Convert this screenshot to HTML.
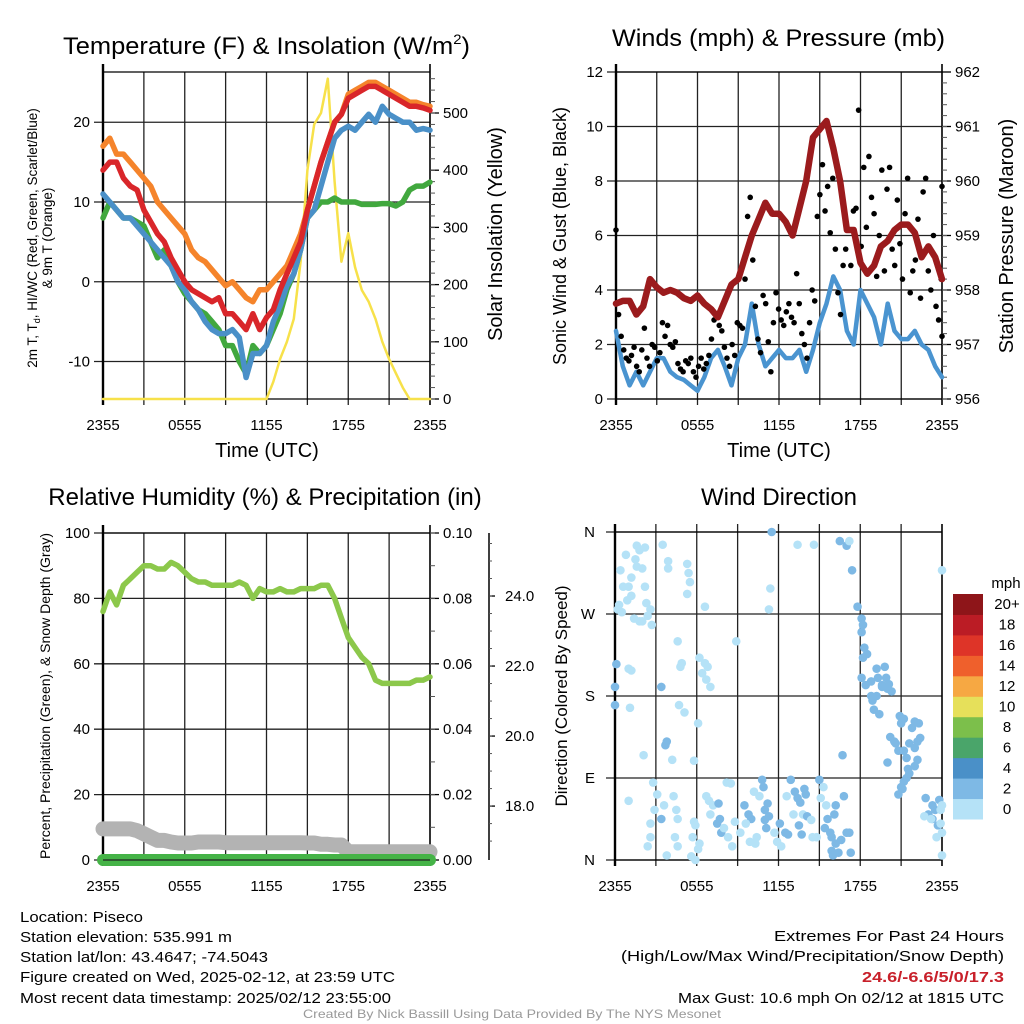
<!DOCTYPE html>
<html><head><meta charset="utf-8"><style>
html,body{margin:0;padding:0;background:#fff}
svg{display:block;font-family:"Liberation Sans",sans-serif}
</style></head><body>
<svg id="fig" xmlns="http://www.w3.org/2000/svg" width="1024" height="1024" viewBox="0 0 1024 1024">
<rect width="1024" height="1024" fill="#fff"/>
<g id="layer"></g>
<text x="63" y="54" font-size="24" textLength="407" lengthAdjust="spacingAndGlyphs">Temperature (F) &amp; Insolation (W/m<tspan font-size="14" dy="-10">2</tspan><tspan dy="10">)</tspan></text>
<text x="612" y="46" font-size="24" textLength="333" lengthAdjust="spacingAndGlyphs">Winds (mph) &amp; Pressure (mb)</text>
<text x="265" y="505" font-size="24" text-anchor="middle">Relative Humidity (%) &amp; Precipitation (in)</text>
<text x="779" y="505" font-size="24" text-anchor="middle">Wind Direction</text>
<text x="267" y="457" font-size="20" text-anchor="middle">Time (UTC)</text>
<text x="779" y="457" font-size="20" text-anchor="middle">Time (UTC)</text>
<text transform="translate(37,238) rotate(-90)" font-size="13.5" text-anchor="middle">2m T, T<tspan font-size="9" dy="3">d</tspan><tspan dy="-3">, HI/WC (Red, Green, Scarlet/Blue)</tspan></text>
<text transform="translate(52,238) rotate(-90)" font-size="13.5" text-anchor="middle">&amp; 9m T (Orange)</text>
<text transform="translate(502,234) rotate(-90)" font-size="20" text-anchor="middle">Solar Insolation (Yellow)</text>
<text transform="translate(566,236) rotate(-90)" font-size="18" text-anchor="middle">Sonic Wind &amp; Gust (Blue, Black)</text>
<text transform="translate(1013,236) rotate(-90)" font-size="20" text-anchor="middle">Station Pressure (Maroon)</text>
<text transform="translate(50,696) rotate(-90)" font-size="14" text-anchor="middle">Percent, Precipitation (Green), &amp; Snow Depth (Gray)</text>
<text transform="translate(567,696) rotate(-90)" font-size="17" text-anchor="middle">Direction (Colored By Speed)</text>
<text x="1006" y="588" font-size="15" text-anchor="middle">mph</text>
<g font-size="15">
<text x="20" y="922" textLength="123" lengthAdjust="spacingAndGlyphs">Location: Piseco</text>
<text x="20" y="942" textLength="212" lengthAdjust="spacingAndGlyphs">Station elevation: 535.991 m</text>
<text x="20" y="962" textLength="248" lengthAdjust="spacingAndGlyphs">Station lat/lon: 43.4647; -74.5043</text>
<text x="20" y="982" textLength="375" lengthAdjust="spacingAndGlyphs">Figure created on Wed, 2025-02-12, at 23:59 UTC</text>
<text x="20" y="1003" textLength="371" lengthAdjust="spacingAndGlyphs">Most recent data timestamp: 2025/02/12 23:55:00</text>
</g>
<g font-size="15">
<text x="774" y="941" textLength="230" lengthAdjust="spacingAndGlyphs">Extremes For Past 24 Hours</text>
<text x="621" y="961" textLength="383" lengthAdjust="spacingAndGlyphs">(High/Low/Max Wind/Precipitation/Snow Depth)</text>
<text x="862" y="982" textLength="142" lengthAdjust="spacingAndGlyphs" fill="#c8202a" font-weight="bold">24.6/-6.6/5/0/17.3</text>
<text x="678" y="1003" textLength="326" lengthAdjust="spacingAndGlyphs">Max Gust: 10.6 mph On 02/12 at 1815 UTC</text>
</g>
<text x="303" y="1018" font-size="12" fill="#999" textLength="418" lengthAdjust="spacingAndGlyphs">Created By Nick Bassill Using Data Provided By The NYS Mesonet</text>
</svg>
<script>
// ---------- data (half-hour steps from 2355 prior day) ----------
const tempRed=[14,15,15,13,12,11.5,9,7.5,6,5,3,1.5,0,-1,-1.5,-2,-2.5,-2,-4,-4,-5,-6,-4,-6,-4.5,-3.5,-1,1,3,5,9,12,15,17.5,20,21,23,23.5,24,24.5,24.5,24,23.5,23,22.5,22,22,21.8,21.5];
const tempOrange=[17,18,16,16,15,14,13,12,10,9,8,7,6,4,3,2.5,1.5,0.5,-0.5,0,-1,-2,-2.5,-1,-1,0,1,2,4,6,9,12,15,17.5,20,21,23.5,24,24.5,25,25,24.5,24,23.5,23,22.5,22.5,22.2,22];
const tempGreen=[8,10,9,8,8,7.5,7,5,3,4,2,0,-1.5,-2.5,-3.5,-4,-5,-6,-8,-8,-10,-11.5,-8,-9,-8,-6,-4,-1,1,4,8,9,10,10,10.5,10,10,10,9.7,9.7,9.7,9.8,9.8,9.5,10,11.5,12,12,12.5];
const tempBlue=[11,10,9,8,8,7,6,5,4,3,2,0,-1,-2.5,-3.5,-5,-6,-6.5,-6.5,-6,-7,-12,-9,-9,-8,-5,-3,-0.5,1,4,8,9,12,15,18,19,19.5,19,20,21,20,22,21,20.5,20,20,19,19.2,19];
const insolation=[0,0,0,0,0,0,0,0,0,0,0,0,0,0,0,0,0,0,0,0,0,0,0,0,0,30,70,100,140,240,400,480,500,560,380,240,290,230,190,170,140,100,70,45,20,0,0,0,0];
const windSpeed=[2.5,1.2,0.5,1,0.5,1,1.5,1.5,1,0.8,0.7,0.5,0.3,0.8,1.5,1.8,1.2,0.5,1.5,2,3.5,2,1.2,1.5,1.8,1.5,1.5,1.8,1,1.8,2.8,3.5,4.5,4,2.5,2,4,3.5,3,2,3.5,2.5,2.2,2.2,2.5,2,1.8,1.2,0.8];
const pressure=[957.75,957.8,957.8,957.55,957.7,958.2,958.05,957.95,958,957.95,957.85,957.8,957.9,957.75,957.65,957.5,957.8,958.1,958.2,958.6,959,959.3,959.6,959.4,959.4,959.25,959,959.5,960,960.8,960.95,961.1,960.6,960,959.1,959.1,958.5,958.3,958.45,958.8,958.9,959.1,959.2,959.2,959.05,958.6,958.8,958.6,958.2];
// gusts at quarter-hour steps
const gusts=[6.2,3.1,2.3,1.8,1.5,1.4,1.6,1.9,1.2,1.0,1.8,2.6,1.5,1.2,2.0,1.9,1.4,1.7,2.8,2.3,2.7,2.0,1.9,2.1,1.3,1.1,1.0,1.4,1.3,1.5,1.0,0.8,1.2,1.5,1.1,1.3,1.6,2.2,2.9,3.0,2.7,2.5,1.9,1.5,1.2,2.0,1.6,2.8,2.7,2.6,4.4,6.7,7.4,5.1,3.4,2.2,1.7,3.8,3.5,2.1,1.0,2.8,3.9,3.3,2.9,2.7,3.2,3.5,3.0,2.8,4.6,3.5,2.4,2.0,1.5,2.8,4.0,3.6,6.7,7.5,8.6,6.9,7.8,6.1,8.1,5.5,3.9,3.1,4.9,5.5,6.2,4.9,6.9,7.0,10.6,5.6,8.5,6.3,8.9,7.4,6.8,4.5,6.0,8.4,4.7,7.7,8.5,5.5,4.9,7.3,5.7,4.4,6.8,8.1,3.9,4.7,5.1,6.6,3.7,7.6,8.1,4.7,4.0,6.0,3.4,2.9,4.4,7.8,2.3];
// wind direction: hours, degrees, speed (mph)
const dirHours=[0.4,0.6,0.9,1.2,1.5,1.8,1.6,2.0,2.2,2.3,2.4,0.3,0.5,1.4,1.8,2.6,2.7,0.2,1.0,1.2,0.8,1.6,2.2,2.0,0.1,0,0,1.0,1.2,1.1,2.1,3.5,3.9,3.9,5.3,5.4,5.5,5.3,6.6,4.6,4.9,4.8,4.7,5.1,3.4,3.8,3.7,4.2,6.2,6.6,6.4,6.8,6.7,7.0,6.1,5.8,8.9,11.5,11.4,11.3,13.4,14.6,
1.0,2.8,3.1,2.9,2.6,2.6,2.4,3.4,3.6,3.8,4.3,4.5,4.6,4.4,4.6,5.6,5.9,5.8,5.9,5.7,6.1,6.2,6.7,6.9,7.2,7.0,7.6,7.7,7.5,7.8,8.2,8.5,8.0,8.3,8.6,8.8,9.2,9.5,9.8,10.0,9.6,9.9,10.3,10.4,10.8,10.9,10.2,10.6,11.2,11.3,11.0,11.1,11.0,11.7,11.9,12.2,12.5,12.7,12.1,12.9,12.6,13.2,13.4,13.6,13.9,14.0,13.1,13.8,14.1,14.4,13.5,13.7,14.5,14.8,15.0,15.3,15.1,15.5,15.6,15.4,15.8,15.9,16.2,15.9,16.0,16.4,16.6,16.2,16.7,16.8,16.1,17.3,17.0,17.2,
16.5,17.0,17.2,17.4,17.8,18.1,18.2,18.1,18.3,18.5,18.2,18.1,18.4,18.8,19.2,19.3,19.8,19.9,19.6,20.1,20.3,18.8,18.9,19.0,19.4,19.6,19.2,20.0,20.9,21.2,21.0,22.0,22.3,20.2,20.5,20.8,20.6,21.8,21.6,22.2,22.4,20.0,21.2,21.4,22.0,22.2,21.5,21.2,21.0,21.4,21.6,21.1,20.8,22.0,22.8,23.3,23.5,23.0,23.3,23.7,23.8,24.0,23.9,24.0,24.0,24.0,23.6,23.2,23.9,22.7];
const dirDegrees=[318,300,285,290,330,340,322,320,300,282,268,280,272,265,262,275,258,275,300,310,335,345,343,262,215,190,170,210,208,167,115,346,320,328,325,315,305,292,278,240,216,212,170,162,190,130,126,110,222,216,205,212,198,190,150,109,240,360,298,275,346,346,
65,85,72,55,40,25,15,45,60,5,70,55,45,25,15,4,0,42,38,25,12,18,70,65,60,50,62,45,40,30,85,84,35,25,15,42,30,60,50,45,40,20,18,25,88,80,75,70,62,48,55,35,44,30,20,15,30,28,40,88,70,75,68,63,78,72,50,50,48,44,38,28,25,25,88,80,68,60,45,35,30,25,18,10,5,8,22,60,115,70,50,8,30,30,
350,345,350,318,278,265,258,250,233,226,222,200,192,196,210,200,212,200,192,193,185,180,175,165,160,190,180,188,158,155,150,152,150,135,130,120,128,145,128,130,134,107,120,112,123,110,100,86,80,90,95,78,72,103,68,60,55,50,45,38,66,60,40,30,5,318,25,45,55,48];
const dirSpeeds=[0.5,0.5,0.5,0,0,0,0.5,0,0,1,0,0,0,1,0,0,0,0,0,0,0,0,0,0,3,3,3,0,0,0,0,0,0,0,0,0,0,0,0,0,0,1,0,0,3,2,2,0,0,0,0,0,0,0,0,0,0,2,0,0,0,0,
0,0,0,0,0,0,0,2,0,0,0,0,0,0,0,0,0,0,0,0,0,0,0,0,0,0,3,2,2,2,0,0,0,0,0,0,0,3,2,2,0,0,0,0,2,2,0,0,3,3,3,3,2,0,0,0,2,2,2,2,0,2,2,2,2,2,0,0,2,0,2,3,0,0,3,0,0,0,2,2,2,2,2,3,3,2,3,3,3,3,2,3,2,2,
3,3,1,2,2,2,2,2,2,2,2,2,2,3,3,3,3,3,3,3,3,2,3,3,2,3,3,3,3,2,2,2,2,2,2,2,2,2,2,2,2,2,2,2,2,2,2,3,3,3,3,3,2,2,2,2,2,2,2,2,2,0,0,0,0,0,0,0,0,0];
const rhValues=[76,82,78,84,86,88,90,90,89,89,91,90,88,86,85,85,84,84,84,84,85,84,80,83,82,82,83,82,82,83,83,83,84,84,80,74,68,65,62,60,55,54,54,54,54,54,55,55,56];
const snowDepthPct=[9.5,9.5,9.5,9.5,9.5,9,8,7,6,6,5.5,5.2,5.2,5.2,5.5,5.5,5.5,5.5,5.3,5.3,5.3,5.3,5.3,5.3,5.3,5.3,5.3,5.3,5.3,5.3,5.2,5.2,4.8,4.8,4.6,4.6,2.5,2.5,2.5,2.5,2.5,2.5,2.5,2.5,2.5,2.5,2.5,2.5,2.5];
const precipValues=[0,0,0,0,0,0,0,0,0,0,0,0,0,0,0,0,0,0,0,0,0,0,0,0,0,0,0,0,0,0,0,0,0,0,0,0,0,0,0,0,0,0,0,0,0,0,0,0,0];
const timeTickLabels=['2355','0555','1155','1755','2355'];
const tempTicks=[-10,0,10,20];
const insolTicks=[0,100,200,300,400,500];
const windTicks=[0,2,4,6,8,10,12];
const pressTicks=[956,957,958,959,960,961,962];
const rhTicks=[0,20,40,60,80,100];
const precipTicks=['0.00','0.02','0.04','0.06','0.08','0.10'];
const snowTicks=[18,20,22,24];
const dirTickLabels=['N','E','S','W','N'];
const cbarLabels=['0','2','4','6','8','10','12','14','16','18','20+'];
const cbarColors=['#b5e2f7','#7eb9e5','#4a90c8','#4aa56a','#7cbf4b','#e6e05a','#f6a843','#ef602c','#de3428','#bb1c25','#8e1519'];

const NS='http://www.w3.org/2000/svg';
const layer=document.getElementById('layer');
function el(tag,attrs,parent){const e=document.createElementNS(NS,tag);for(const k in attrs)e.setAttribute(k,attrs[k]);(parent||layer).appendChild(e);return e;}
function P(x0,x1,y0,y1,vmin,vmax){return {x0,x1,y0,y1,vmin,vmax};}
const p1=P(103,430,72,399,-14.7,26.3), p2=P(616,942,72,399,0,12), p3=P(103,430,533,860,0,100), p4=P(615,942,532,860,0,360);
function xs(p,h){return p.x0+h/24*(p.x1-p.x0);}
function ys(p,v,mn,mx){mn=mn===undefined?p.vmin:mn;mx=mx===undefined?p.vmax:mx;return p.y1-(v-mn)/(mx-mn)*(p.y1-p.y0);}

function frame(p,name,hTicksVals,mn,mx){
  const g=el('g',{});
  
  
  for(let i=1;i<8;i++){const x=xs(p,i*3);el('line',{x1:x,x2:x,y1:p.y0-(name==='dir'?8:0),y2:p.y1+6,stroke:'#222','stroke-width':1.3},g);}
  hTicksVals.forEach(v=>{const y=ys(p,v,mn,mx);el('line',{x1:p.x0-9,x2:p.x1,y1:y,y2:y,stroke:'#222','stroke-width':1.3},g);});
  el('line',{x1:p.x0,x2:p.x0,y1:p.y0-8,y2:p.y1+6,stroke:'#000','stroke-width':2.4},g);
  el('line',{x1:p.x1,x2:p.x1,y1:p.y0-8,y2:p.y1+6,stroke:'#000','stroke-width':1.6},g);
  el('line',{x1:p.x0,x2:p.x1,y1:p.y0,y2:p.y0,stroke:'#000','stroke-width':1.3},g);
  el('line',{x1:p.x0,x2:p.x1,y1:p.y1,y2:p.y1,stroke:'#000','stroke-width':1.3},g);
  const tl=el('g',{'font-size':15,'text-anchor':'middle'});
  
  
  if(name!=='rh'&&name!=='dir'||true){
    timeTickLabels.forEach((t,i)=>{const tx=el('text',{x:xs(p,i*6),y:p.y1+31},tl);tx.textContent=t;});
  }
}
function leftLabels(p,name,vals,labels,mn,mx,dx){
  const g=el('g',{'font-size':15,'text-anchor':'end'});
  
  
  vals.forEach((v,i)=>{const t=el('text',{x:p.x0-(dx||13),y:ys(p,v,mn,mx)+5},g);t.textContent=labels?labels[i]:String(v);});
}
function rightAxis(p,name,vals,labels,mn,mx,minorStep){
  const g=el('g',{'font-size':15});
  
  
  vals.forEach((v,i)=>{const y=ys(p,v,mn,mx);el('line',{x1:p.x1,x2:p.x1+9,y1:y,y2:y,stroke:'#000','stroke-width':1.3},g);const t=el('text',{x:p.x1+13,y:y+5},g);t.textContent=labels?labels[i]:String(v);});
  if(minorStep){for(let v=mn;v<=mx;v+=minorStep){const y=ys(p,v,mn,mx);el('line',{x1:p.x1,x2:p.x1+5,y1:y,y2:y,stroke:'#555','stroke-width':1},g);}}
}
function line(p,arr,name,color,w,mn,mx,step){
  step=step||0.5;let d='';
  arr.forEach((v,i)=>{if(v===null)return;d+=(d?'L':'M')+xs(p,i*step).toFixed(1)+','+ys(p,v,mn,mx).toFixed(1);});
  const e=el('path',{d,fill:'none',stroke:color,'stroke-width':w,'stroke-linejoin':'round','stroke-linecap':'round'});
  
  
  return e;
}
function clip(p,id){const c=el('clipPath',{id});el('rect',{x:p.x0,y:p.y0-14,width:p.x1-p.x0+8,height:p.y1-p.y0+22},c);}

// ---- Panel 1 ----
frame(p1,'temp',tempTicks);
leftLabels(p1,'temp-y-tick-labels',tempTicks);
rightAxis(p1,'insolation-axis',insolTicks,null,0,(p1.y1-p1.y0)/57.2*100,20);
line(p1,insolation,'insolation-line','#f7e14a',2.5,0,(p1.y1-p1.y0)/57.2*100);
line(p1,tempOrange,'temp-9m-line','#f5842b',5.5);
line(p1,tempGreen,'dewpoint-line','#41a83e',5.5);
line(p1,tempBlue,'windchill-line','#4a90c8',5.5);
line(p1,tempRed,'temp-2m-line','#d9262a',5.5);

// ---- Panel 2 ----
frame(p2,'wind',windTicks);
leftLabels(p2,'wind-y-tick-labels',windTicks);
rightAxis(p2,'pressure-axis',pressTicks,null,956,962,0.2);
line(p2,windSpeed,'wind-speed-line','#4a94d0',4.5);
const gg=el('g',{});


gusts.forEach((v,i)=>{const c=el('circle',{cx:xs(p2,Math.min(i*0.19,24)),cy:ys(p2,v),r:2.8,fill:'#000'},gg);

});
line(p2,pressure,'pressure-line','#9b1b1d',6.5,956,962);

// ---- Panel 3 ----
frame(p3,'rh',rhTicks);
leftLabels(p3,'rh-y-tick-labels',rhTicks);
rightAxis(p3,'precip-axis',[0,0.02,0.04,0.06,0.08,0.10],precipTicks,0,0.1,0.01);
const sa=el('g',{'font-size':15});


el('line',{x1:489,x2:489,y1:p3.y0,y2:p3.y1,stroke:'#000','stroke-width':1.5},sa);
const sMin=16.46,sMax=25.8;
snowTicks.forEach(v=>{const y=ys(p3,v,sMin,sMax);el('line',{x1:489,x2:495,y1:y,y2:y,stroke:'#000','stroke-width':1.3},sa);const t=el('text',{x:505,y:y+5},sa);t.textContent=v.toFixed(1);});
for(let v=17;v<=25.5;v+=0.5){const y=ys(p3,v,sMin,sMax);el('line',{x1:489,x2:492,y1:y,y2:y,stroke:'#555','stroke-width':1},sa);}
line(p3,rhValues,'rh-line','#8cc84b',5.5);
line(p3,snowDepthPct,'snow-depth-line','#b3b3b3',15);
line(p3,precipValues,'precip-line','#45b347',12,0,0.1);
el('line',{x1:p3.x0,x2:p3.x1,y1:p3.y1,y2:p3.y1,stroke:'#222','stroke-width':1.3});

// ---- Panel 4 ----
frame(p4,'dir',[0,90,180,270,360]);
leftLabels(p4,'dir-y-tick-labels',[0,90,180,270,360],dirTickLabels,undefined,undefined,20);
function spdColor(s){const i=Math.min(10,Math.floor((s+0.5)/2));return cbarColors[i];}
const dg=el('g',{});


dirHours.forEach((h,i)=>{const c=el('circle',{cx:xs(p4,h),cy:ys(p4,dirDegrees[i]),r:4.3,fill:spdColor(dirSpeeds[i])},dg);

});
const cb=el('g',{'font-size':15,'text-anchor':'middle'});


const cbTop=594,cbBot=819,bh=(cbBot-cbTop)/cbarColors.length;
cbarColors.forEach((c,i)=>{const y=cbBot-(i+1)*bh;el('rect',{x:953,y:y,width:30,height:bh+0.5,fill:c},cb);const t=el('text',{x:1007,y:y+bh/2+5},cb);t.textContent=cbarLabels[i];});
</script>
</body></html>
